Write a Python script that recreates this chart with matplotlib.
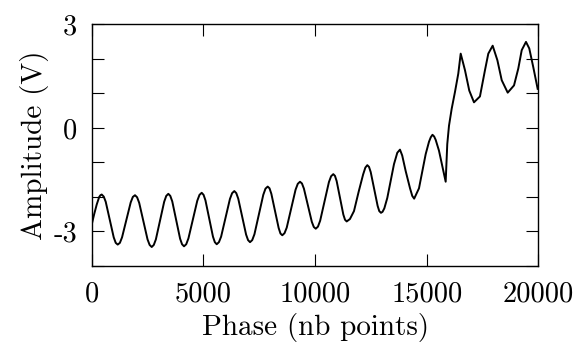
import matplotlib
matplotlib.use("Agg")
import matplotlib.pyplot as plt

plt.rcParams['font.family'] = 'cmr10'
plt.rcParams['mathtext.fontset'] = 'cm'

# signal (phase in points, amplitude in V)
phase = [0, 110, 224, 336, 392, 448,
         538, 627, 806, 985, 1075, 1164,
         1261, 1358, 1551, 1745, 1841, 1938,
         2032, 2125, 2312, 2499, 2593, 2686,
         2779, 2872, 3058, 3244, 3337, 3430,
         3518, 3606, 3781, 3957, 4044, 4132,
         4231, 4330, 4528, 4726, 4825, 4924,
         5008, 5092, 5260, 5428, 5512, 5596,
         5695, 5793, 5990, 6187, 6286, 6384,
         6472, 6560, 6736, 6911, 6999, 7087,
         7186, 7285, 7483, 7680, 7779, 7878,
         7960, 8042, 8205, 8369, 8450, 8532,
         8631, 8730, 8928, 9126, 9225, 9324,
         9412, 9500, 9677, 9853, 9942, 10030,
         10128, 10226, 10422, 10619, 10717, 10815,
         10890, 10965, 11114, 11264, 11339, 11414,
         11560, 11741, 11950, 12150, 12250, 12337,
         12414, 12490, 12645, 12800, 12873, 12950,
         13020, 13100, 13232, 13532, 13680, 13800,
         13900, 14055, 14250, 14350, 14435, 14651, 14951, 15100, 15180, 15255,
         15330, 15400, 15546, 15700, 15846,
         15917, 15994, 16114, 16262, 16410, 16518,
         16710, 16902, 17113, 17380, 17605, 17754, 17950,
         18160, 18355, 18623, 18905, 19097, 19250, 19441,
         19588, 19767, 19964]
amplitude = [-2.80, -2.50, -2.22, -2.00, -1.95, -1.93,
             -1.99, -2.14, -2.66, -3.17, -3.33, -3.38,
             -3.33, -3.17, -2.67, -2.16, -2.00, -1.95,
             -2.01, -2.17, -2.70, -3.23, -3.39, -3.45,
             -3.39, -3.23, -2.68, -2.14, -1.97, -1.91,
             -1.97, -2.13, -2.67, -3.21, -3.37, -3.43,
             -3.37, -3.20, -2.66, -2.11, -1.94, -1.88,
             -1.94, -2.10, -2.63, -3.15, -3.31, -3.37,
             -3.31, -3.15, -2.60, -2.06, -1.89, -1.83,
             -1.89, -2.05, -2.57, -3.09, -3.25, -3.31,
             -3.25, -3.08, -2.51, -1.94, -1.76, -1.70,
             -1.75, -1.91, -2.41, -2.90, -3.06, -3.11,
             -3.05, -2.89, -2.34, -1.79, -1.62, -1.56,
             -1.61, -1.76, -2.24, -2.72, -2.87, -2.92,
             -2.86, -2.69, -2.13, -1.57, -1.40, -1.34,
             -1.39, -1.54, -2.03, -2.51, -2.66, -2.71,
             -2.64, -2.41, -1.85, -1.35, -1.15, -1.08,
             -1.13, -1.28, -1.77, -2.26, -2.41, -2.46,
             -2.43, -2.33, -2.03, -1.05, -0.72, -0.63,
             -0.80, -1.25, -1.75, -1.97, -2.05, -1.75, -0.76, -0.40, -0.27, -0.20,
             -0.25, -0.35, -0.66, -1.12, -1.56,
             -0.47, 0.06, 0.55, 1.04, 1.57, 2.15,
             1.67, 1.08, 0.74, 0.91, 1.67, 2.15, 2.38,
             1.96, 1.38, 1.02, 1.23, 1.72, 2.25, 2.49,
             2.30, 1.76, 1.13]

xticks = [0, 5000, 10000, 15000, 20000]
xlabels = ['0', '5000', '10000', '15000', '20000']
yticks = [-4, -3, -2, -1, 0, 1, 2, 3]
ylabels = ['', '-3', '', '', '0', '', '', '3']

fig = plt.figure(figsize=(5.79, 3.43), dpi=100)
ax = fig.add_axes([0.1584, 0.2245, 0.7716, 0.7047])

ax.plot(phase, amplitude, color='black', lw=1.4)

ax.set_xlim(0, 20000)
ax.set_ylim(-4, 3)
ax.set_xticks(xticks)
ax.set_xticklabels(xlabels)
ax.set_yticks(yticks)
ax.set_yticklabels(ylabels)
ax.tick_params(direction='in', length=8.5, width=0.8, top=True, right=True,
               labelsize=20.5)
ax.tick_params(axis='x', pad=11)
ax.tick_params(axis='y', pad=10.5)
for s in ax.spines.values():
    s.set_linewidth(1.0)

ax.set_xlabel('Phase (nb points)', fontsize=21, labelpad=4)
ax.set_ylabel('Amplitude (V)', fontsize=21, labelpad=3)

fig.savefig('out.png', dpi=100)
